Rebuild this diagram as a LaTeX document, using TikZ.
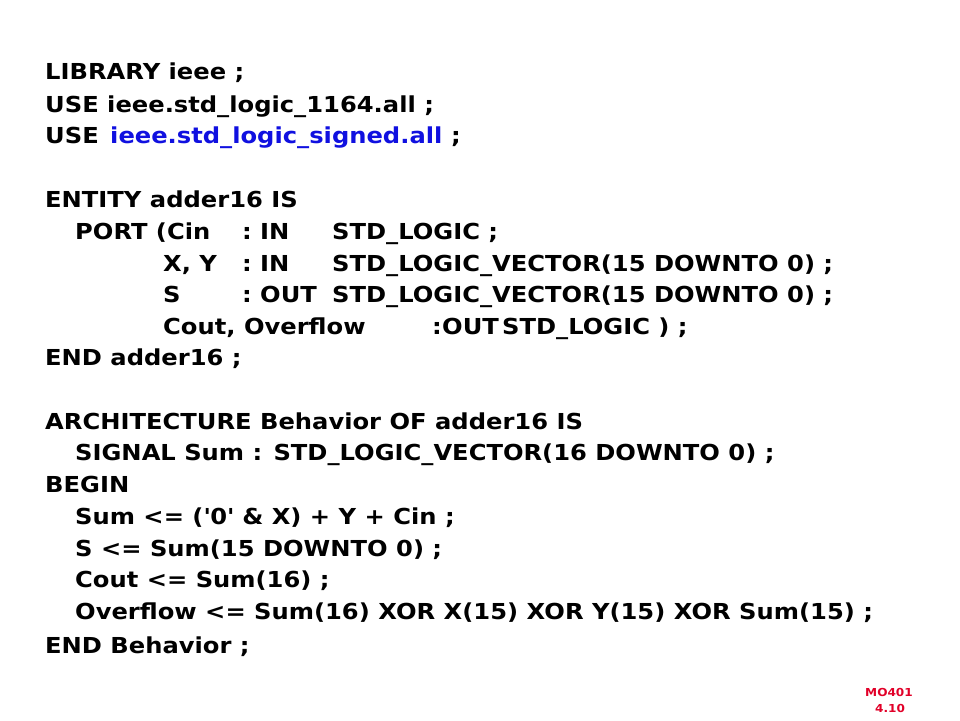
\documentclass[tikz,border=0pt]{standalone}
\usepackage{fontspec}
\newfontfamily\vhdlfam[FakeStretch=1.1]{DejaVu Sans}
\newcommand{\vhdl}{\vhdlfam\bfseries\fontsize{22}{26}\selectfont}
\newcommand{\tagfont}{\vhdlfam\bfseries\fontsize{11}{13}\selectfont}
\definecolor{libblue}{RGB}{16,16,224}
\definecolor{tagred}{RGB}{225,0,40}
\begin{document}
\begin{tikzpicture}[
  x=1pt, y=-1pt,
  code/.style={anchor=base west, inner sep=0pt, font=\vhdl},
  lib/.style={code, text=libblue},
  tag/.style={anchor=base, inner sep=0pt, font=\tagfont, text=tagred},
]
%general params
\def\lm{45}    %left margin
\def\ind{75}   %indent
\def\col{163}  %port names
\def\dir{242}  %colon
\def\mode{260} %IN / OUT
\def\typ{332}  %types

\useasboundingbox (0,0) rectangle (960,720);

%libraries
\node[code] (lib)  at (\lm,79)  {LIBRARY ieee ;};
\node[code] (use1) at (\lm,112) {USE ieee.std\_logic\_1164.all ;};
\node[code] (use2) at (\lm,143) {USE};
\node[lib]  (pkg)  at (110,143) {ieee.std\_logic\_signed.all};
\node[code] (semi) at (pkg.base east) {\ ;};

%entity
\node[code] (ent)  at (\lm,207)   {ENTITY adder16 IS};
\node[code] (port) at (\ind,239)  {PORT (Cin};
\node[code] (c1)   at (\dir,239)  {:};
\node[code] (m1)   at (\mode,239) {IN};
\node[code] (t1)   at (\typ,239)  {STD\_LOGIC ;};
\node[code] (xy)   at (\col,271)  {X, Y};
\node[code] (c2)   at (\dir,271)  {:};
\node[code] (m2)   at (\mode,271) {IN};
\node[code] (t2)   at (\typ,271)  {STD\_LOGIC\_VECTOR(15 DOWNTO 0) ;};
\node[code] (s)    at (\col,302)  {S};
\node[code] (c3)   at (\dir,302)  {:};
\node[code] (m3)   at (\mode,302) {OUT};
\node[code] (t3)   at (\typ,302)  {STD\_LOGIC\_VECTOR(15 DOWNTO 0) ;};
\node[code] (cout) at (\col,334)  {Cout, Overflow};
\node[code] (c4)   at (432,334)   {:};
\node[code] (m4)   at (442,334)   {OUT};
\node[code] (t4)   at (502,334)   {STD\_LOGIC ) ;};
\node[code] (eent) at (\lm,365)   {END adder16 ;};

%architecture
\node[code] (arch) at (\lm,429)  {ARCHITECTURE Behavior OF adder16 IS};
\node[code] (sig)  at (\ind,460) {SIGNAL Sum : STD\_LOGIC\_VECTOR(16 DOWNTO 0) ;};
\node[code] (beg)  at (\lm,492)  {BEGIN};
\node[code] (a1)   at (\ind,524) {Sum <= (\textquotesingle 0\textquotesingle{} \& X) + Y + Cin ;};
\node[code] (a2)   at (\ind,556) {S <= Sum(15 DOWNTO 0) ;};
\node[code] (a3)   at (\ind,587) {Cout <= Sum(16) ;};
\node[code] (a4)   at (\ind,619) {Overflow <= Sum(16) XOR X(15) XOR Y(15) XOR Sum(15) ;};
\node[code] (earc) at (\lm,653)  {END Behavior ;};

%slide tag
\node[tag] (mo)  at (889,696) {MO401};
\node[tag] (sec) at (890,712) {4.10};

\end{tikzpicture}
\end{document}
